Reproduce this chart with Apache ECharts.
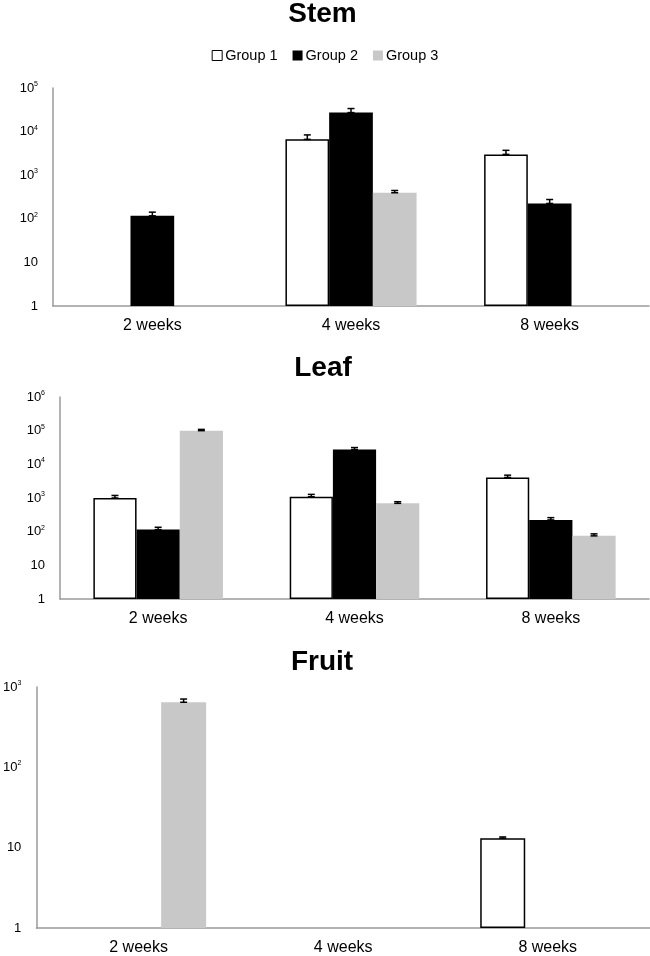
<!DOCTYPE html>
<html><head><meta charset="utf-8">
<script src="https://cdn.jsdelivr.net/npm/echarts@6/dist/echarts.min.js"></script>
<style>html,body{margin:0;padding:0;background:#fff}#c{width:650px;height:956px}</style>
</head><body><div id="c"></div>
<script>
const categories = ['2 weeks', '4 weeks', '8 weeks'];
const groupNames = ['Group 1', 'Group 2', 'Group 3'];

// Stem
const stemGroup1 = [null, 6640, 3000];
const stemGroup1Err = [null, 1760, 720];
const stemGroup2 = [117, 27300, 225];
const stemGroup2Err = [25, 6500, 52];
const stemGroup3 = [null, 396, null];
const stemGroup3Err = [null, 50, null];

// Leaf
const leafGroup1 = [1000, 1090, 4070];
const leafGroup1Err = [190, 190, 700];
const leafGroup2 = [115, 27400, 223];
const leafGroup2Err = [20, 4100, 38];
const leafGroup3 = [100000, 694, 75];
const leafGroup3Err = [9000, 82, 11];

// Fruit
const fruitGroup1 = [null, null, 13.1];
const fruitGroup1Err = [null, null, 0.5];
const fruitGroup2 = [null, null, null];
const fruitGroup2Err = [null, null, null];
const fruitGroup3 = [646, null, null];
const fruitGroup3Err = [62, null, null];

const panels = [
  { title: 'Stem', titleTop: 0, titleX: 322.5, grid: { left: 53, top: 88, right: 1, height: 218 }, maxExp: 5,
    values: [stemGroup1, stemGroup2, stemGroup3], errs: [stemGroup1Err, stemGroup2Err, stemGroup3Err] },
  { title: 'Leaf', titleTop: 354, titleX: 323, grid: { left: 60, top: 397, right: 1, height: 202 }, maxExp: 6,
    values: [leafGroup1, leafGroup2, leafGroup3], errs: [leafGroup1Err, leafGroup2Err, leafGroup3Err] },
  { title: 'Fruit', titleTop: 648, titleX: 322, grid: { left: 34, top: 687, right: 0, height: 242 }, maxExp: 3,
    values: [fruitGroup1, fruitGroup2, fruitGroup3], errs: [fruitGroup1Err, fruitGroup2Err, fruitGroup3Err] }
];

const FONT = '"Liberation Sans", Arial, sans-serif';
const barStyles = [
  { color: '#ffffff', borderColor: '#000000', borderWidth: 1.5 },
  { color: '#000000' },
  { color: '#c8c8c8' }
];
const BAR_FRAC = 0.22;

function yFormatter(v) {
  const e = Math.round(Math.log10(v));
  if (e === 0) return '1';
  if (e === 1) return '10';
  return '{b|10}{s|' + e + '}';
}

function errRender(params, api) {
  const cat = api.value(0), val = api.value(1), top = api.value(2), gi = api.value(3);
  const band = params.coordSys.width / categories.length;
  const bw = band * BAR_FRAC;
  const p0 = api.coord([cat, val]);
  const p1 = api.coord([cat, top]);
  const x = p0[0] + (gi - 1) * bw;
  const h = 3.5;
  const st = { stroke: '#000', lineWidth: 1.5 };
  return { type: 'group', children: [
    { type: 'line', shape: { x1: x, y1: p0[1], x2: x, y2: p1[1] }, style: st },
    { type: 'line', shape: { x1: x - h, y1: p1[1], x2: x + h, y2: p1[1] }, style: st },
    { type: 'line', shape: { x1: x - h, y1: p0[1], x2: x + h, y2: p0[1] }, style: st }
  ]};
}

const titles = [], grids = [], xAxes = [], yAxes = [], series = [];
panels.forEach((p, pi) => {
  titles.push({ text: p.title, left: p.titleX, top: p.titleTop, textAlign: 'center', padding: 0,
    textStyle: { fontFamily: FONT, fontWeight: 'bold', fontSize: 28, color: '#000' } });
  grids.push(p.grid);
  xAxes.push({ type: 'category', gridIndex: pi, data: categories,
    axisLine: { lineStyle: { color: '#9a9a9a', width: 1.5 } }, axisTick: { show: false },
    axisLabel: { fontFamily: FONT, fontSize: 16, color: '#000', margin: 12 } });
  yAxes.push({ type: 'log', logBase: 10, gridIndex: pi, min: 1, max: Math.pow(10, p.maxExp), splitNumber: p.maxExp,
    axisLine: { show: true, lineStyle: { color: '#9a9a9a', width: 1.5 } }, axisTick: { show: false },
    splitLine: { show: false },
    axisLabel: { fontFamily: FONT, fontSize: 13, color: '#000', margin: 15, formatter: yFormatter,
      rich: { b: { fontFamily: FONT, fontSize: 13, color: '#000', lineHeight: 15 },
              s: { fontFamily: FONT, fontSize: 7, color: '#000', verticalAlign: 'top', lineHeight: 7 } } } });
  p.values.forEach((vals, gi) => {
    series.push({ type: 'bar', name: groupNames[gi], xAxisIndex: pi, yAxisIndex: pi,
      data: vals.map(v => v == null ? '-' : v), barWidth: (BAR_FRAC * 100) + '%', barGap: '0%',
      itemStyle: barStyles[gi], silent: true, animation: false });
  });
  const ebData = [];
  p.values.forEach((vals, gi) => {
    vals.forEach((v, ci) => {
      const e = p.errs[gi][ci];
      if (v != null && e != null) ebData.push([ci, v, v + e, gi]);
    });
  });
  series.push({ type: 'custom', name: 'err' + pi, xAxisIndex: pi, yAxisIndex: pi, renderItem: errRender,
    data: ebData, encode: { x: 0, y: 1 }, z: 5, silent: true, animation: false });
});

const chart = echarts.init(document.getElementById('c'), null, { renderer: 'canvas' });
chart.setOption({
  animation: false,
  backgroundColor: '#fff',
  title: titles,
  legend: { data: groupNames.map((n, i) => ({ name: n, itemStyle: barStyles[i].borderColor ? { color: '#fff', borderColor: '#000', borderWidth: 1 } : { color: barStyles[i].color } })),
    top: 48, left: 'center', padding: 0, itemWidth: 10, itemHeight: 10, itemGap: 15, icon: 'rect',
    textStyle: { fontFamily: FONT, fontSize: 14.5, color: '#000', padding: [0, 0, 0, -2] } },
  grid: grids,
  xAxis: xAxes,
  yAxis: yAxes,
  series: series
});
</script>
</body></html>
